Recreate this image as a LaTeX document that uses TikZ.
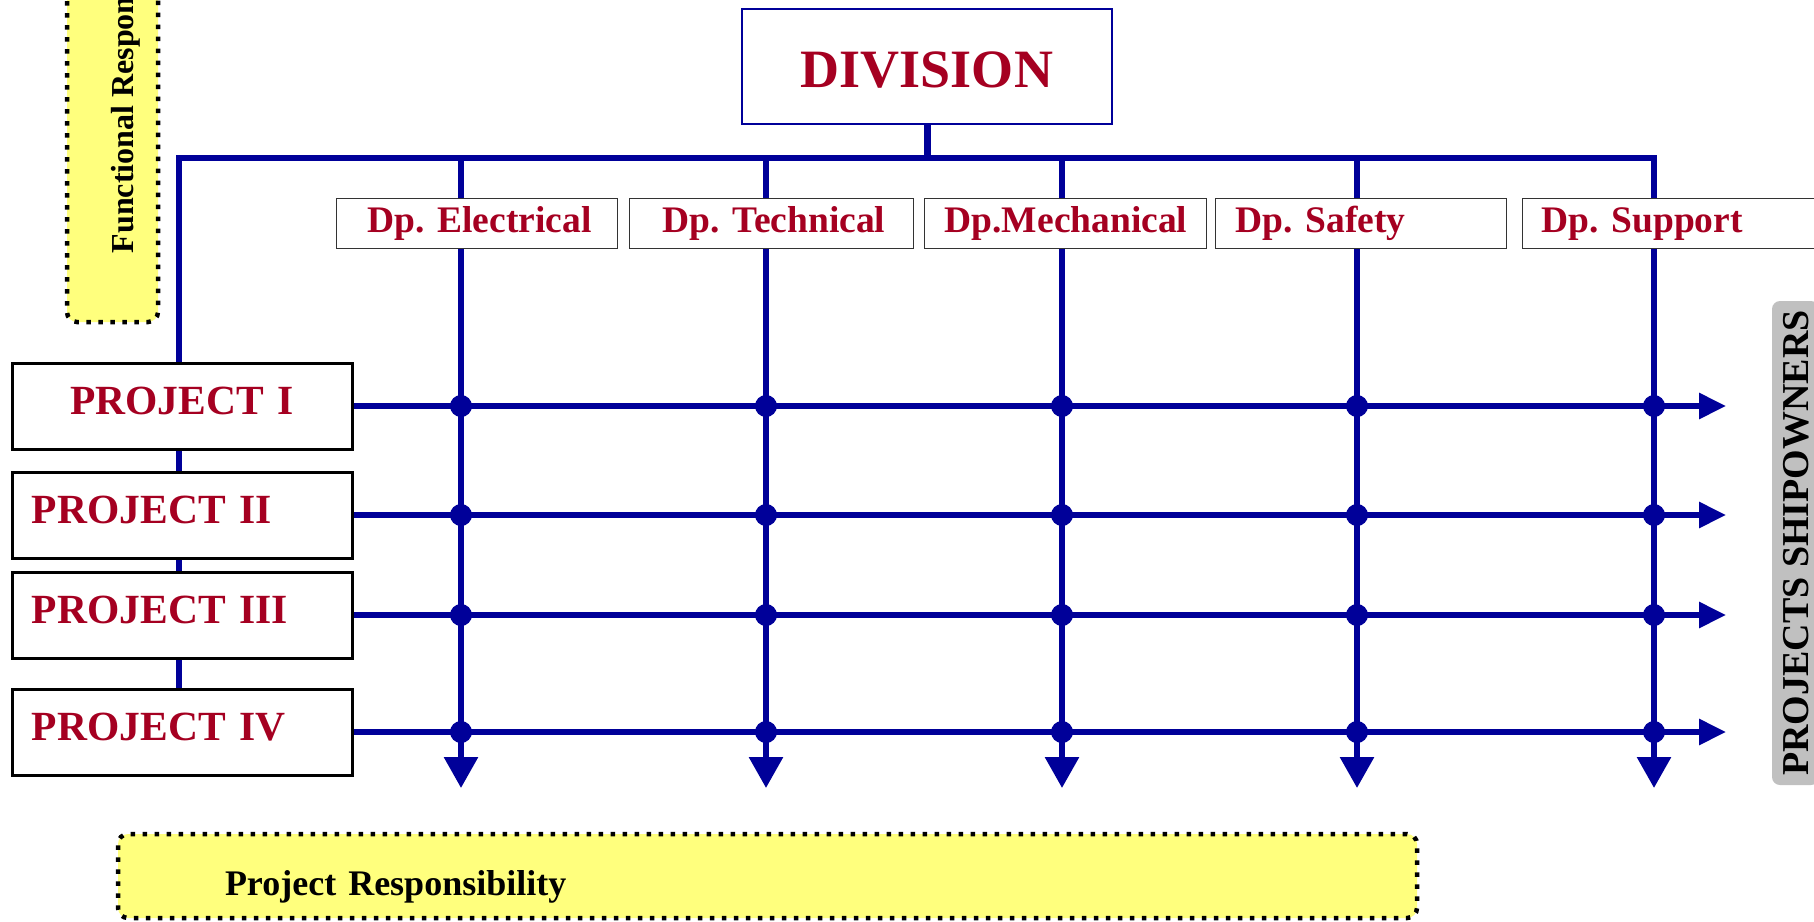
\documentclass[tikz,border=0pt]{standalone}
\usepackage{fontspec}
\setmainfont{Liberation Serif}
\frenchspacing
\usetikzlibrary{arrows.meta,positioning,calc}
\definecolor{gridblue}{RGB}{0,0,153}
\definecolor{deptred}{RGB}{165,0,33}
\definecolor{noteyellow}{RGB}{255,255,125}
\definecolor{ownergray}{RGB}{192,192,192}
\tikzset{every picture/.style={line width=0.75pt}}
\tikzset{
  gridline/.style={draw=gridblue, line width=6pt},
  downarrow/.style={gridline, -{Triangle[length=31pt 0 0,width=33pt 0 0]}},
  rightarrow/.style={gridline, -{Triangle[length=27pt 0 0,width=25pt 0 0]}},
  divbox/.style={draw=gridblue, line width=2.5pt, minimum width=370pt, minimum height=115pt,
    text height=42pt, text depth=0pt, text=deptred, font=\fontsize{54}{60}\selectfont\bfseries},
  deptbox/.style={draw=black!80, line width=1.3pt, anchor=north west, minimum height=50pt,
    inner xsep=0pt, align=left, text=deptred, font=\fontsize{37.5}{42}\selectfont\bfseries},
  projbox/.style={draw=black, fill=white, line width=3pt, minimum height=86pt, text width=340pt,
    inner xsep=0pt, text depth=10pt, text=deptred, font=\fontsize{41.5}{46}\selectfont\bfseries},
  respbox/.style={draw=black, fill=noteyellow, line width=4.5pt, dash pattern=on 4.5pt off 7.5pt,
    rounded corners=10pt, font=\fontsize{36}{40}\selectfont\bfseries}
}

\begin{document}
\begin{tikzpicture}[x=1pt,y=-1pt]
    \useasboundingbox (0,0) rectangle (1814,921);
    \clip (0,0) rectangle (1814,921);

    \node[respbox, rotate=90, minimum width=487pt, minimum height=91pt, text height=41pt, text depth=0pt,
      font=\fontsize{32}{36}\selectfont\bfseries] (funcresp) at (112.5,78.5) {Functional Responsibility};
    \node[respbox, minimum height=84pt, inner xsep=0pt, text width=1299pt, align=left,
      text height=38pt, text depth=0pt] (projresp) at (767.5,876) {\hspace*{107pt}Project Responsibility};
    \node[fill=ownergray, rounded corners=8pt, rotate=90, minimum width=484pt, minimum height=47pt,
      inner sep=0pt, text height=25pt, text depth=0pt, font=\fontsize{38}{42}\selectfont\bfseries]
      (owners) at (1795.5,543) {PROJECTS SHIPOWNERS};

    \node[divbox] (div) at (927,66.5) {DIVISION};

    \node[deptbox, text width=281pt] (dElec) at (336,198) {\hspace*{31pt}Dp. Electrical};
    \node[deptbox, text width=284pt] (dTech) at (629,198) {\hspace*{33pt}Dp. Technical};
    \node[deptbox, text width=282pt] (dMech) at (924,198) {\hspace*{20pt}Dp.Mechanical};
    \node[deptbox, text width=291pt] (dSafe) at (1215,198) {\hspace*{20pt}Dp. Safety};
    \node[deptbox, text width=320pt] (dSupp) at (1522,198) {\hspace*{19pt}Dp. Support};

    \node[projbox, align=center] (p1) at (182,406) {PROJECT I};
    \node[projbox, align=left] (p2) at (182,515) {\hspace*{20pt}PROJECT II};
    \node[projbox, align=left] (p3) at (182,615) {\hspace*{20pt}PROJECT III};
    \node[projbox, align=left] (p4) at (182,732) {\hspace*{20pt}PROJECT IV};

    \coordinate (busL) at (179,158);
    \coordinate (col1) at (461,158);
    \coordinate (col2) at (766,158);
    \coordinate (col3) at (1062,158);
    \coordinate (col4) at (1357,158);
    \coordinate (col5) at (1654,158);
    \coordinate (tipR) at (1726,0);
    \coordinate (tipD) at (0,788);

    \draw[gridline, line width=7pt] (div.south) -- (div.south |- busL);
    \draw[gridline, line join=miter] (p1.north -| busL) -- (busL) -- (col5) -- (col5 |- dSupp.north);
    \foreach \a/\b in {p1/p2,p2/p3,p3/p4}
        \draw[gridline] (\a.south -| busL) -- (\b.north -| busL);

    \foreach \i/\d in {1/dElec,2/dTech,3/dMech,4/dSafe}
        \draw[gridline] (col\i) -- (col\i |- \d.north);
    \foreach \i/\d in {1/dElec,2/dTech,3/dMech,4/dSafe,5/dSupp}
        \draw[downarrow] (col\i |- \d.south) -- (col\i |- tipD);

    \foreach \p in {p1,p2,p3,p4} {
        \draw[rightarrow] (\p.east) -- (\p.east -| tipR);
        \foreach \i in {1,...,5}
            \fill[gridblue] (col\i |- \p.east) circle (11pt);
    }
\end{tikzpicture}
\end{document}
